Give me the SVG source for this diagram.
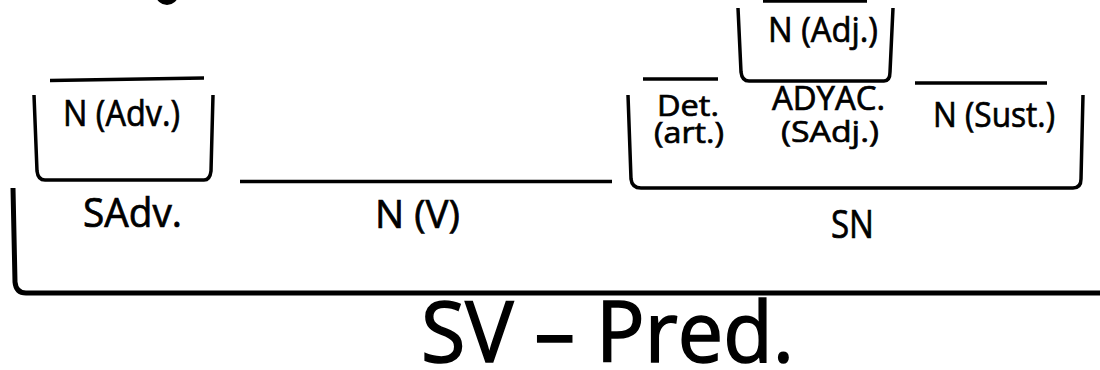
<svg xmlns="http://www.w3.org/2000/svg" width="1100" height="370" viewBox="0 0 1100 370">
<style>
.ln{fill:none;stroke:#000;stroke-width:3.5;stroke-linecap:butt;stroke-linejoin:round}
.br{fill:none;stroke:#000;stroke-width:3.5;stroke-linejoin:round}
.big{fill:none;stroke:#000;stroke-width:5;stroke-linejoin:round}
text{font-family:"Open Sans","Noto Sans","DejaVu Sans",sans-serif;fill:#000;stroke:#000;stroke-width:0.7}
text.lg{stroke-width:1.6}
</style>
<rect width="1100" height="370" fill="#fff"/>
<ellipse cx="167" cy="-5" rx="11" ry="10" fill="#000"/>
<g id="connectors">
<path class="ln" d="M50,80.5 L204,78"/>
<path class="ln" d="M240,181.5 L612,181.5"/>
<path class="ln" d="M643,79 L718,79"/>
<path class="ln" d="M763,1 L867,1"/>
<path class="ln" d="M915,83 L1047,83"/>
<path class="big" d="M13,188 L15,282 Q16,293 26,293 L1100,293"/>
</g>
<g id="n-adv">
<path class="br" d="M34,95 L37,171 Q38,180 45,180 L204,180 Q210,180 211,171 L213,95"/>
<text x="63" y="126" font-size="36" textLength="117" lengthAdjust="spacingAndGlyphs">N (Adv.)</text>
</g>
<g id="sadv">
<text x="83" y="227" font-size="40" textLength="99" lengthAdjust="spacingAndGlyphs">SAdv.</text>
</g>
<g id="n-v">
<text x="375" y="228" font-size="38" textLength="85" lengthAdjust="spacingAndGlyphs">N (V)</text>
</g>
<g id="n-adj">
<path class="br" d="M738,8 L741,72 Q742,81 749,81 L884,81 Q890,81 890,72 L893,8"/>
<text x="768" y="42" font-size="35" textLength="110" lengthAdjust="spacingAndGlyphs">N (Adj.)</text>
</g>
<g id="det">
<text x="657" y="116" font-size="29" textLength="62" lengthAdjust="spacingAndGlyphs">Det.</text>
<text x="654" y="143" font-size="29" textLength="70" lengthAdjust="spacingAndGlyphs">(art.)</text>
</g>
<g id="adyac">
<text x="772" y="110" font-size="32" textLength="113" lengthAdjust="spacingAndGlyphs">ADYAC.</text>
<text x="781" y="142" font-size="30" textLength="98" lengthAdjust="spacingAndGlyphs">(SAdj.)</text>
</g>
<g id="n-sust">
<text x="933" y="127" font-size="34" textLength="122" lengthAdjust="spacingAndGlyphs">N (Sust.)</text>
</g>
<g id="sn">
<path class="br" d="M628,95 L631,179 Q632,188 641,188 L1073,188 Q1081,188 1081,179 L1083,95"/>
<text x="831" y="238" font-size="39" textLength="43" lengthAdjust="spacingAndGlyphs">SN</text>
</g>
<g id="sv-pred">
<text class="lg" x="421" y="362" font-size="84" textLength="373" lengthAdjust="spacingAndGlyphs">SV – Pred.</text>
</g>
</svg>
